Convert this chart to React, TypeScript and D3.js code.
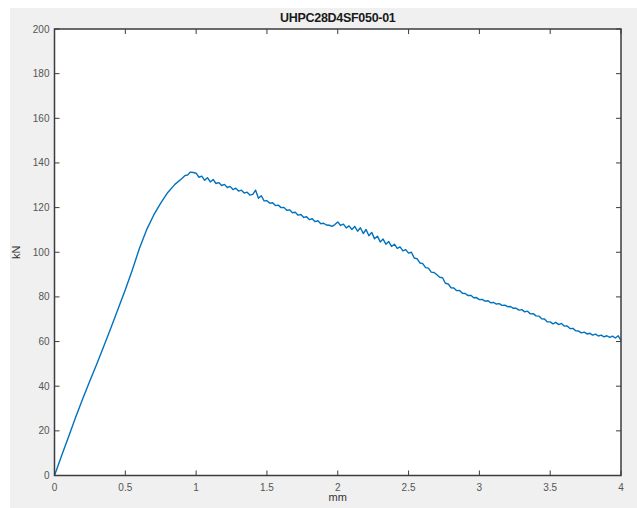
import React from "react";
import * as d3 from "d3";

const title = "UHPC28D4SF050-01";
const xLabel = "mm";
const yLabel = "kN";
const xTicks = [0, 0.5, 1, 1.5, 2, 2.5, 3, 3.5, 4];
const xTickLabels = ["0", "0.5", "1", "1.5", "2", "2.5", "3", "3.5", "4"];
const yTicks = [0, 20, 40, 60, 80, 100, 120, 140, 160, 180, 200];

const dispRise = [0, 0.05, 0.1, 0.15, 0.2, 0.25, 0.3, 0.35, 0.4, 0.45, 0.5, 0.55, 0.6, 0.65, 0.7, 0.75, 0.8, 0.85, 0.9];
const loadRise = [0, 8.8, 17.5, 26.2, 34.5, 42.4, 50.2, 58.2, 66.4, 74.8, 83.2, 92.2, 101.8, 110.0, 116.6, 122.0, 126.8, 130.4, 133.0];

const dispPost = [
  0.92, 0.94, 0.96, 0.98, 1.0, 1.02, 1.04, 1.06, 1.08, 1.1, 1.12, 1.14, 1.16, 1.18, 1.2, 1.22, 1.24, 1.26, 1.28, 1.3,
  1.32, 1.34, 1.36, 1.38, 1.4, 1.42, 1.44, 1.46, 1.48, 1.5, 1.52, 1.54, 1.56, 1.58, 1.6, 1.62, 1.64, 1.66, 1.68, 1.7,
  1.72, 1.74, 1.76, 1.78, 1.8, 1.82, 1.84, 1.86, 1.88, 1.9, 1.92, 1.94, 1.96, 1.98, 2.0, 2.02, 2.04, 2.06, 2.08, 2.1,
  2.12, 2.14, 2.16, 2.18, 2.2, 2.22, 2.24, 2.26, 2.28, 2.3, 2.32, 2.34, 2.36, 2.38, 2.4, 2.42, 2.44, 2.46, 2.48, 2.5,
  2.52, 2.54, 2.56, 2.58, 2.6, 2.62, 2.64, 2.66, 2.68, 2.7, 2.72, 2.74, 2.76, 2.78, 2.8, 2.82, 2.84, 2.86, 2.88, 2.9,
  2.92, 2.94, 2.96, 2.98, 3.0, 3.02, 3.04, 3.06, 3.08, 3.1, 3.12, 3.14, 3.16, 3.18, 3.2, 3.22, 3.24, 3.26, 3.28, 3.3,
  3.32, 3.34, 3.36, 3.38, 3.4, 3.42, 3.44, 3.46, 3.48, 3.5, 3.52, 3.54, 3.56, 3.58, 3.6, 3.62, 3.64, 3.66, 3.68, 3.7,
  3.72, 3.74, 3.76, 3.78, 3.8, 3.82, 3.84, 3.86, 3.88, 3.9, 3.92, 3.94, 3.96, 3.98, 4.0,
];
const loadPost = [
  134.3, 134.6, 135.9, 135.7, 135.4, 133.6, 134.1, 132.2, 133.4, 131.5, 132.6, 130.8, 131.2, 129.9, 130.4, 129.0, 129.5, 128.1, 128.7, 127.4,
  127.8, 126.5, 126.9, 125.6, 125.9, 127.8, 124.2, 125.3, 123.0, 123.1, 122.0, 122.2, 120.9, 121.1, 120.0, 120.1, 118.8, 119.0, 117.7, 117.9,
  116.6, 116.9, 115.6, 115.9, 114.6, 115.0, 113.7, 114.1, 112.8, 113.0, 112.2, 112.1, 111.6, 112.4, 113.6, 112.0, 112.6, 110.9, 111.8, 110.2,
  111.6, 109.4, 111.0, 108.4, 110.2, 107.4, 108.9, 106.0, 107.2, 104.6, 105.9, 103.6, 104.8, 102.6, 103.6, 101.7, 102.4, 100.6, 101.2, 99.6,
  100.0, 97.4, 97.1, 95.2, 94.9, 93.1, 92.9, 91.1, 90.9, 89.9, 88.8, 88.6, 86.1, 85.8, 84.1, 84.0, 82.8, 82.9, 81.6, 81.5,
  80.6, 80.7, 79.6, 79.7, 78.8, 78.9, 78.1, 78.3, 77.4, 77.5, 76.8, 77.0, 76.2, 76.3, 75.6, 75.7, 74.9, 74.9, 74.1, 74.3,
  73.3, 73.6, 72.4, 72.5, 71.5, 71.4, 70.2, 70.1, 68.8, 68.8, 67.9, 68.6, 67.6, 68.1, 66.9, 67.0, 65.8, 65.9, 64.8, 64.7,
  63.9, 64.2, 63.4, 63.7, 62.9, 63.3, 62.5, 62.9, 62.1, 62.6, 61.9, 62.4, 61.6, 62.6, 60.5,
];

const W = 637;
const H = 508;
const plot = { left: 54.5, right: 621, top: 29, bottom: 475.5 };

export default function App() {
  const x = d3.scaleLinear().domain([0, 4]).range([plot.left, plot.right]);
  const y = d3.scaleLinear().domain([0, 200]).range([plot.bottom, plot.top]);
  const pts: [number, number][] = [
    ...dispRise.map((d, i) => [d, loadRise[i]] as [number, number]),
    ...dispPost.map((d, i) => [d, loadPost[i]] as [number, number]),
  ];
  const line = d3
    .line<[number, number]>()
    .x((d) => x(d[0]))
    .y((d) => y(d[1]));
  const axisColor = "#3c3c3c";
  const labelColor = "#555555";
  const tickLen = 5;
  const font = "'Liberation Sans', Arial, Helvetica, sans-serif";
  return (
    <svg
      width={W}
      height={H}
      style={{ position: "absolute", left: 0, top: 0, background: "#ffffff" }}
      fontFamily={font}
    >
      <rect x={10} y={8} width={W - 10} height={H - 8} fill="#f0f0f0" />
      <rect
        x={plot.left}
        y={plot.top}
        width={plot.right - plot.left}
        height={plot.bottom - plot.top}
        fill="#ffffff"
      />
      <path d={line(pts) || ""} fill="none" stroke="#0072BD" strokeWidth={1.4} strokeLinejoin="round" />
      {xTicks.map((t, i) => (
        <g key={"xt" + i}>
          <line x1={x(t)} x2={x(t)} y1={plot.bottom} y2={plot.bottom - tickLen} stroke={axisColor} strokeWidth={1} />
          <line x1={x(t)} x2={x(t)} y1={plot.top} y2={plot.top + tickLen} stroke={axisColor} strokeWidth={1} />
          <text x={x(t)} y={plot.bottom + 15} textAnchor="middle" fontSize={10} fill={labelColor}>
            {xTickLabels[i]}
          </text>
        </g>
      ))}
      {yTicks.map((t, i) => (
        <g key={"yt" + i}>
          <line x1={plot.left} x2={plot.left + tickLen} y1={y(t)} y2={y(t)} stroke={axisColor} strokeWidth={1} />
          <line x1={plot.right} x2={plot.right - tickLen} y1={y(t)} y2={y(t)} stroke={axisColor} strokeWidth={1} />
          <text x={plot.left - 5} y={y(t) + 3.5} textAnchor="end" fontSize={10} fill={labelColor}>
            {String(t)}
          </text>
        </g>
      ))}
      <rect
        x={plot.left}
        y={plot.top}
        width={plot.right - plot.left}
        height={plot.bottom - plot.top}
        fill="none"
        stroke={axisColor}
        strokeWidth={1.5}
      />
      <text
        x={(plot.left + plot.right) / 2}
        y={22}
        textAnchor="middle"
        fontSize={12.5}
        fontWeight="bold"
        fill="#1a1a1a"
        letterSpacing={-0.3}
      >
        {title}
      </text>
      <text x={(plot.left + plot.right) / 2} y={501} textAnchor="middle" fontSize={11} fill="#333">
        {xLabel}
      </text>
      <text
        transform={`translate(20, ${(plot.top + plot.bottom) / 2}) rotate(-90)`}
        textAnchor="middle"
        fontSize={11}
        fill="#333"
      >
        {yLabel}
      </text>
    </svg>
  );
}
